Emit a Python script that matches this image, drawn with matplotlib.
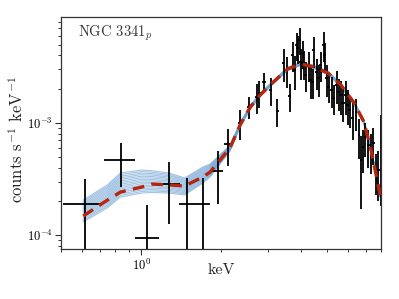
#!/usr/bin/env python3
"""X-ray spectrum of NGC 3341 (p) with model band"""

import numpy as np
import matplotlib
matplotlib.use("Agg")
import matplotlib.pyplot as plt
from matplotlib.ticker import LogLocator, NullFormatter

plt.rcParams['font.family'] = 'serif'
plt.rcParams['font.serif'] = ['cmr10', 'DejaVu Serif']
plt.rcParams['mathtext.fontset'] = 'cm'
plt.rcParams['axes.formatter.use_mathtext'] = True
plt.rcParams['axes.unicode_minus'] = False

# data points: energy (keV), bin half-widths, counts s^-1 keV^-1 (x1e-4), error (x1e-4)
energy = [0.617, 0.837, 1.05, 1.27, 1.49, 1.71, 1.95, 2.13,
          2.36, 2.55, 2.72, 2.79, 2.91, 3.07, 3.26, 3.44, 3.53, 3.62,
          3.72, 3.78, 3.85, 3.88, 3.95, 3.99, 4.06, 4.10, 4.16, 4.27,
          4.35, 4.43, 4.47, 4.58, 4.66, 4.75, 4.87, 4.91, 5.00, 5.09,
          5.22, 5.31, 5.45, 5.55, 5.65, 5.75, 5.90, 6.00, 6.11, 6.27,
          6.44, 6.61, 6.73, 6.84, 6.97, 7.15, 7.34, 7.47, 7.67, 7.81, 8.00]
energy_lo = [0.108, 0.109, 0.097, 0.095, 0.10, 0.12, 0.12, 0.08,
             0.04, 0.04, 0.04, 0.04, 0.05, 0.05, 0.05, 0.05, 0.05, 0.05,
             0.05, 0.05, 0.05, 0.05, 0.05, 0.05, 0.06, 0.06, 0.06, 0.06,
             0.06, 0.06, 0.06, 0.06, 0.06, 0.06, 0.07, 0.07, 0.07, 0.07,
             0.07, 0.07, 0.07, 0.07, 0.08, 0.08, 0.08, 0.08, 0.08, 0.08,
             0.08, 0.08, 0.08, 0.08, 0.08, 0.09, 0.09, 0.09, 0.09, 0.09, 0.09]
energy_hi = [0.104, 0.108, 0.115, 0.13, 0.10, 0.11, 0.08, 0.09,
             0.04, 0.04, 0.04, 0.04, 0.05, 0.05, 0.05, 0.05, 0.05, 0.05,
             0.05, 0.05, 0.05, 0.05, 0.05, 0.05, 0.06, 0.06, 0.06, 0.06,
             0.06, 0.06, 0.06, 0.06, 0.06, 0.06, 0.07, 0.07, 0.07, 0.07,
             0.07, 0.07, 0.07, 0.07, 0.08, 0.08, 0.08, 0.08, 0.08, 0.08,
             0.08, 0.08, 0.08, 0.08, 0.08, 0.09, 0.09, 0.09, 0.09, 0.09, 0.09]
counts = [1.89, 4.67, 0.94, 2.85, 1.89, 1.89, 3.73, 6.5,
          10.0, 13.9, 17.1, 18.5, 23.2, 19.7, 12.8, 34.3, 29.7, 17.4,
          40.5, 29.7, 49.7, 46.7, 55.0, 35.0, 42.0, 34.0, 26.8, 33.0,
          24.2, 23.2, 45.0, 28.5, 25.2, 33.0, 50.0, 40.0, 25.0, 21.0,
          19.7, 16.7, 21.8, 18.9, 17.8, 15.1, 17.8, 14.5, 13.1, 11.1,
          12.5, 7.8, 4.7, 6.1, 7.5, 6.3, 5.7, 6.6, 3.8, 3.8, 6.8]
counts_err = [1.27, 2.0, 0.91, 1.6, 1.34, 1.34, 1.85, 2.4,
              3.0, 3.0, 5.0, 5.0, 4.5, 5.5, 3.6, 11.0, 9.0, 5.0,
              12.0, 10.0, 14.0, 13.0, 15.0, 11.0, 12.0, 10.0, 8.0, 10.0,
              8.0, 7.0, 14.0, 9.0, 8.0, 10.0, 15.0, 12.0, 8.0, 6.0,
              6.0, 5.0, 7.0, 6.0, 6.0, 5.0, 6.0, 5.0, 4.0, 4.0,
              4.0, 3.0, 3.0, 2.5, 2.5, 2.3, 2.2, 2.4, 1.5, 1.8, 5.0]

# best-fit model and envelope of posterior model curves (x1e-4)
model_energy = [0.606, 0.747, 0.837, 1.005, 1.096, 1.27, 1.46, 1.71, 1.82,
                2.16, 2.36, 2.58, 2.81, 3.15, 3.56, 3.99, 4.47, 5.05,
                5.65, 6.33, 6.9, 7.34, 7.94]
model_counts = [1.48, 2.05, 2.42, 2.68, 2.85, 2.80, 2.74, 3.30, 3.65,
                5.98, 9.6, 13.9, 17.8, 23.2, 30.3, 33.6, 31.6, 27.9,
                21.8, 15.1, 10.2, 5.7, 2.28]
band_lo = [1.31, 1.75, 2.18, 2.37, 2.40, 2.37, 2.28, 2.91, 3.30,
           5.6, 9.2, 13.4, 17.2, 22.5, 29.3, 32.6, 30.6, 27.0,
           21.1, 14.6, 9.8, 5.45, 2.18]
band_hi = [2.05, 2.80, 3.58, 3.80, 3.75, 3.58, 3.23, 4.05, 4.30,
           6.3, 10.0, 14.4, 18.4, 23.9, 31.2, 34.6, 32.6, 28.8,
           22.5, 15.6, 10.6, 5.95, 2.38]

scale = 1e-4


def main():
    fig = plt.figure(figsize=(3.99, 2.99), dpi=100)
    ax = fig.add_axes([0.153, 0.167, 0.802, 0.776])

    # model band: curves spread between envelopes
    lo = np.log10(np.array(band_lo) * scale)
    hi = np.log10(np.array(band_hi) * scale)
    n_curves = 16
    for i in range(n_curves):
        f = i / (n_curves - 1)
        ax.plot(model_energy, 10 ** (lo + f * (hi - lo)),
                color='#6fa3d3', lw=0.8, alpha=0.65, zorder=1)

    # data
    ax.errorbar(energy, np.array(counts) * scale,
                xerr=[energy_lo, energy_hi],
                yerr=np.array(counts_err) * scale,
                fmt='none', ecolor='black', elinewidth=1.3, capsize=0,
                zorder=2)

    # best-fit model
    ax.plot(model_energy, np.array(model_counts) * scale,
            color='#b5260f', lw=2.4, ls=(0, (3.5, 2.2)), zorder=3)

    ax.set_xscale('log')
    ax.set_yscale('log')
    ax.set_xlim(0.5, 8.0)
    ax.set_ylim(7.5e-5, 8.8e-3)

    ax.xaxis.set_minor_formatter(NullFormatter())
    ax.yaxis.set_minor_formatter(NullFormatter())
    ax.yaxis.set_minor_locator(LogLocator(base=10, subs=np.arange(2, 10)))
    ax.tick_params(which='both', direction='out', top=False, right=False,
                   labelsize=9, pad=2, color='#333333')
    ax.tick_params(which='major', length=4, width=0.8)
    ax.tick_params(which='minor', length=2.5, width=0.7)
    for spine in ax.spines.values():
        spine.set_color('#333333')
        spine.set_linewidth(0.9)

    ax.set_xlabel('keV', fontsize=11.5, color='#222222')
    ax.xaxis.set_label_coords(0.5, -0.062)
    ax.set_ylabel(r'counts s$^{-1}$ keV$^{-1}$', fontsize=12, color='#222222')
    ax.yaxis.set_label_coords(-0.11, 0.47)

    ax.text(0.053, 0.93, r'NGC 3341$_p$', transform=ax.transAxes,
            fontsize=10.5, ha='left', va='center', color='#333333')

    fig.savefig('out.png', dpi=100, facecolor='white')
    plt.close(fig)


if __name__ == "__main__":
    main()
